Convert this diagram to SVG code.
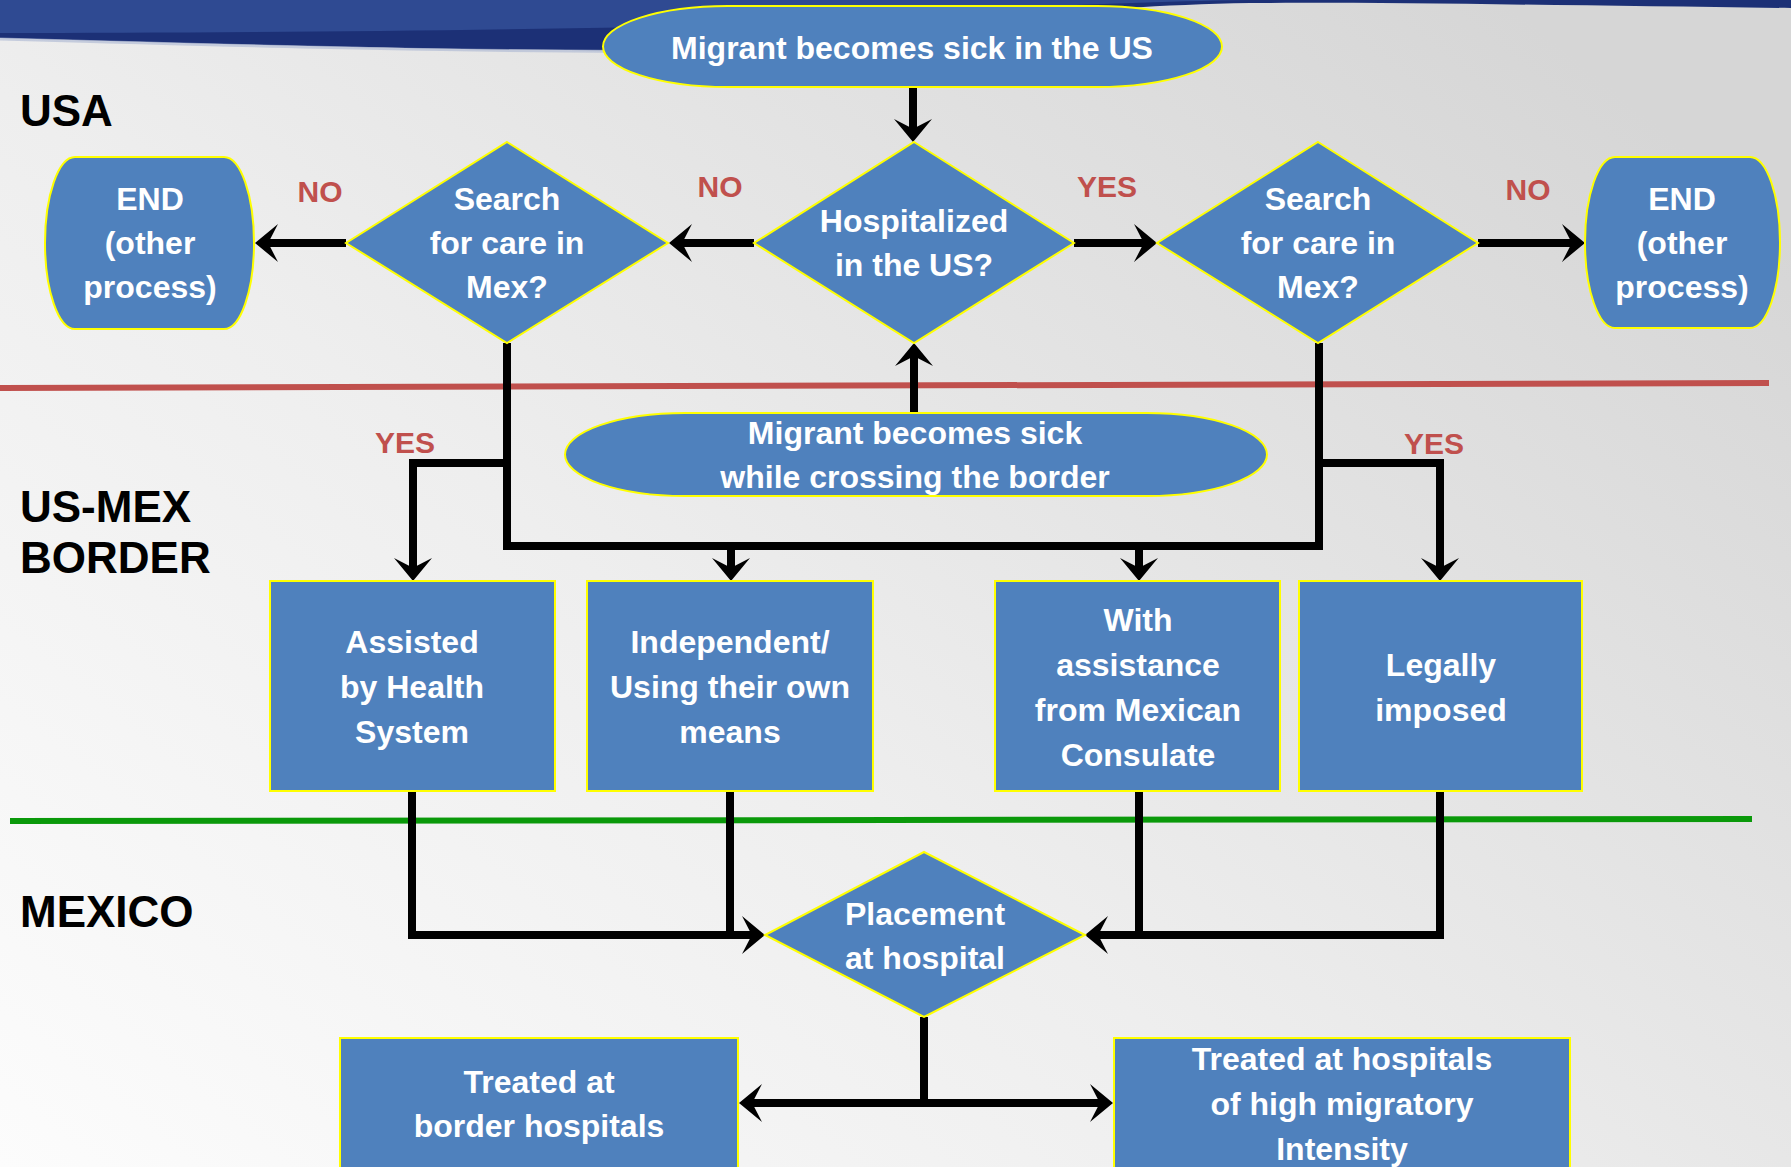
<svg xmlns="http://www.w3.org/2000/svg" width="1791" height="1167" viewBox="0 0 1791 1167">
<defs>
<linearGradient id="bg" x1="0" y1="1" x2="1" y2="0.2">
<stop offset="0" stop-color="#fcfcfc"/>
<stop offset="0.45" stop-color="#eeeeee"/>
<stop offset="1" stop-color="#d6d6d6"/>
</linearGradient>
<marker id="ah" markerUnits="userSpaceOnUse" markerWidth="50" markerHeight="50" viewBox="-25 -25 50 50" refX="0" refY="0" orient="auto-start-reverse">
<path d="M14,0 L-9,-19 L-1,-3.5 L-1,3.5 L-9,19 Z" fill="#000"/>
</marker>
<style>
.node{fill:#4f81bd;stroke:#ffff00;stroke-width:2}
.t{font-family:"Liberation Sans",Arial,sans-serif;font-weight:bold;font-size:32px;fill:#ffffff;text-anchor:middle}
.lab{font-family:"Liberation Sans",Arial,sans-serif;font-weight:bold;font-size:30px;fill:#c0504d;text-anchor:middle}
.lane{font-family:"Liberation Sans",Arial,sans-serif;font-weight:bold;font-size:44px;fill:#000000}
.c{fill:none;stroke:#000;stroke-width:8}
.ca{fill:none;stroke:#000;stroke-width:8;marker-end:url(#ah)}
</style>
</defs>
<rect width="1791" height="1167" fill="url(#bg)"/>
<g id="banner">
<path d="M0,38 C250,45 500,52 700,50 C850,40 1000,8 1250,3 C1400,2 1600,6 1791,8 V0 H0 Z" fill="#1c3076"/>
<path d="M0,0 H1250 C1000,4 850,20 700,26 C450,31 200,33 0,33 Z" fill="#2f4a92"/>
<path d="M0,39 C250,46 500,53 700,51" fill="none" stroke="#aab6d2" stroke-width="3" opacity="0.6"/>
</g>
<g id="lanes">
<path d="M0,388 L1769,383" stroke="#c0504d" stroke-width="6"/>
<path d="M10,821 L1752,819" stroke="#0a990a" stroke-width="6"/>
<text class="lane" x="20" y="126">USA</text>
<text class="lane" x="20" y="522">US-MEX</text>
<text class="lane" x="20" y="573">BORDER</text>
<text class="lane" x="20" y="927">MEXICO</text>
</g>
<g id="connectors">
<path class="ca" d="M913,87 V128"/>
<path class="ca" d="M754,243 H683"/>
<path class="ca" d="M346,243 H269"/>
<path class="ca" d="M1074,243 H1143"/>
<path class="ca" d="M1478,243 H1571"/>
<path class="ca" d="M914,413 V357"/>
<path class="c" d="M507,343 V546 H1319 V343"/>
<path class="ca" d="M507,463 H413 V567"/>
<path class="ca" d="M731,546 V567"/>
<path class="ca" d="M1139,546 V567"/>
<path class="ca" d="M1319,463 H1440 V567"/>
<path class="ca" d="M412,791 V935 H751"/>
<path class="c" d="M730,791 V935"/>
<path class="ca" d="M1440,791 V935 H1099"/>
<path class="c" d="M1139,791 V935"/>
<path class="c" d="M924,1017 V1103"/>
<path class="ca" d="M753,1103 H1099" marker-start="url(#ah)"/>
<text class="lab" x="320" y="202">NO</text>
<text class="lab" x="720" y="197">NO</text>
<text class="lab" x="1107" y="197">YES</text>
<text class="lab" x="1528" y="200">NO</text>
<text class="lab" x="405" y="453">YES</text>
<text class="lab" x="1434" y="454">YES</text>
</g>
<g id="start-us">
<rect class="node" x="603" y="6" width="619" height="81" rx="125" ry="40.5"/>
<text class="t" x="912" y="59">Migrant becomes sick in the US</text>
</g>
<g id="hospitalized">
<polygon class="node" points="914,142 1074,243 914,343 754,243"/>
<text class="t"><tspan x="914" y="232">Hospitalized</tspan><tspan x="914" y="276">in the US?</tspan></text>
</g>
<g id="search-left">
<polygon class="node" points="507,142 668,243 507,343 346,243"/>
<text class="t"><tspan x="507" y="210">Search</tspan><tspan x="507" y="254">for care in</tspan><tspan x="507" y="298">Mex?</tspan></text>
</g>
<g id="search-right">
<polygon class="node" points="1318,142 1478,243 1318,343 1157,243"/>
<text class="t"><tspan x="1318" y="210">Search</tspan><tspan x="1318" y="254">for care in</tspan><tspan x="1318" y="298">Mex?</tspan></text>
</g>
<g id="end-left">
<rect class="node" x="45" y="157" width="209" height="172" rx="30" ry="86"/>
<text class="t"><tspan x="150" y="210">END</tspan><tspan x="150" y="254">(other</tspan><tspan x="150" y="298">process)</tspan></text>
</g>
<g id="end-right">
<rect class="node" x="1585" y="157" width="195" height="171" rx="30" ry="85.5"/>
<text class="t"><tspan x="1682" y="210">END</tspan><tspan x="1682" y="254">(other</tspan><tspan x="1682" y="298">process)</tspan></text>
</g>
<g id="start-border">
<rect class="node" x="565" y="413" width="702" height="83" rx="120" ry="41.5"/>
<text class="t"><tspan x="915" y="444">Migrant becomes sick</tspan><tspan x="915" y="488">while crossing the border</tspan></text>
</g>
<g id="assisted">
<rect class="node" x="270" y="581" width="285" height="210"/>
<text class="t"><tspan x="412" y="653">Assisted</tspan><tspan x="412" y="698">by Health</tspan><tspan x="412" y="743">System</tspan></text>
</g>
<g id="independent">
<rect class="node" x="587" y="581" width="286" height="210"/>
<text class="t"><tspan x="730" y="653">Independent/</tspan><tspan x="730" y="698">Using their own</tspan><tspan x="730" y="743">means</tspan></text>
</g>
<g id="consulate">
<rect class="node" x="995" y="581" width="285" height="210"/>
<text class="t"><tspan x="1138" y="631">With</tspan><tspan x="1138" y="676">assistance</tspan><tspan x="1138" y="721">from Mexican</tspan><tspan x="1138" y="766">Consulate</tspan></text>
</g>
<g id="legally">
<rect class="node" x="1299" y="581" width="283" height="210"/>
<text class="t"><tspan x="1441" y="676">Legally</tspan><tspan x="1441" y="721">imposed</tspan></text>
</g>
<g id="placement">
<polygon class="node" points="924,852 1085,935 924,1017 765,935"/>
<text class="t"><tspan x="925" y="925">Placement</tspan><tspan x="925" y="969">at hospital</tspan></text>
</g>
<g id="border-hospitals">
<rect class="node" x="340" y="1038" width="398" height="140"/>
<text class="t"><tspan x="539" y="1093">Treated at</tspan><tspan x="539" y="1137">border hospitals</tspan></text>
</g>
<g id="high-migratory">
<rect class="node" x="1114" y="1038" width="456" height="140"/>
<text class="t"><tspan x="1342" y="1070">Treated at hospitals</tspan><tspan x="1342" y="1115">of high migratory</tspan><tspan x="1342" y="1160">Intensity</tspan></text>
</g>
</svg>
